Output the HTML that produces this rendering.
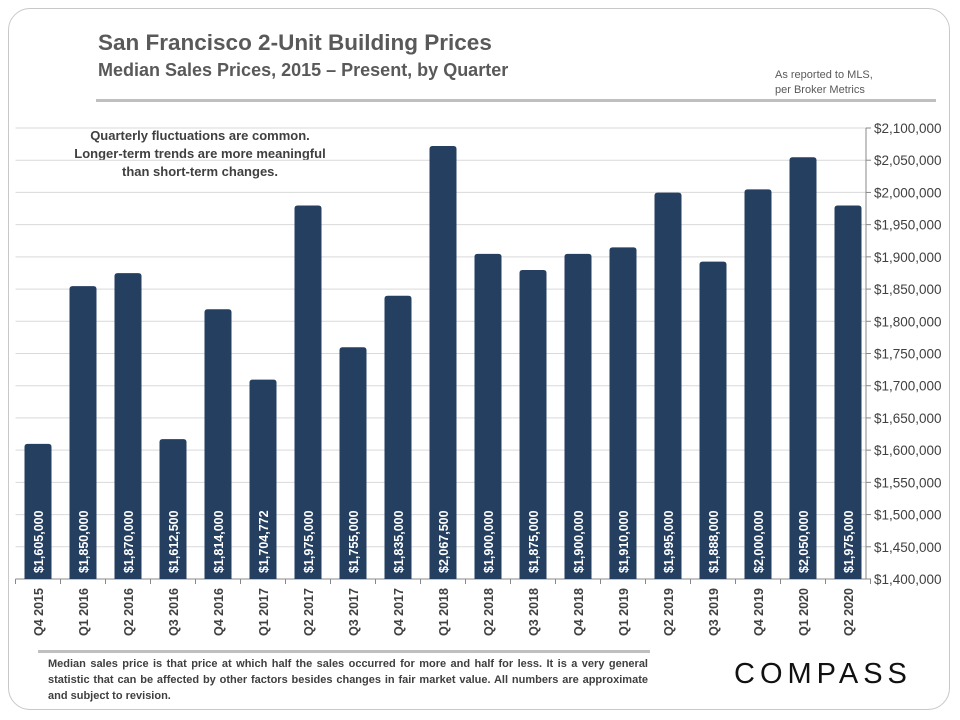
<!DOCTYPE html>
<html><head><meta charset="utf-8"><style>
body{margin:0;background:#fff;font-family:"Liberation Sans",sans-serif;}
#wrap{position:relative;width:960px;height:720px;overflow:hidden;}
.card{position:absolute;left:8px;top:8px;width:940px;height:700px;border:1.5px solid #c8c8c8;border-radius:22px;}
.t{position:absolute;color:#595959;font-weight:bold;}
</style></head><body><div id="wrap">
<div class="card"></div>
<div class="t" style="left:98px;top:30px;font-size:22.5px;">San Francisco 2-Unit Building Prices</div>
<div class="t" style="left:98px;top:60px;font-size:18px;">Median Sales Prices, 2015 – Present, by Quarter</div>
<div class="t" style="left:775px;top:68px;font-size:11px;line-height:15px;font-weight:normal;color:#595959;">As reported to MLS,<br>per Broker Metrics</div>
<div style="position:absolute;left:96px;top:99px;width:840px;height:3px;background:#bfbfbf;"></div>
<div class="t" style="left:55px;top:127px;width:290px;text-align:center;font-size:13px;line-height:18px;color:#404040;">Quarterly fluctuations are common.<br>Longer-term trends are more meaningful<br>than short-term changes.</div>
<svg id="chart" width="960" height="720" style="position:absolute;left:0;top:0"></svg>
<div style="position:absolute;left:38px;top:650px;width:612px;height:3px;background:#bfbfbf;"></div>
<div style="position:absolute;left:48px;top:656px;width:600px;font-size:11px;line-height:16px;color:#404040;font-weight:bold;text-align:justify;">Median sales price is that price at which half the sales occurred for more and half for less. It is a very general statistic that can be affected by other factors besides changes in fair market value. All numbers are approximate and subject to revision.</div>
<div style="position:absolute;left:734px;top:658px;font-size:29px;letter-spacing:5px;color:#111;font-family:'Liberation Sans',sans-serif;">COMPASS</div>
</div>
<script>
const categories=["Q4 2015","Q1 2016","Q2 2016","Q3 2016","Q4 2016","Q1 2017","Q2 2017","Q3 2017","Q4 2017","Q1 2018","Q2 2018","Q3 2018","Q4 2018","Q1 2019","Q2 2019","Q3 2019","Q4 2019","Q1 2020","Q2 2020"];
const values=[1605000,1850000,1870000,1612500,1814000,1704772,1975000,1755000,1835000,2067500,1900000,1875000,1900000,1910000,1995000,1888000,2000000,2050000,1975000];
const labels=["$1,605,000","$1,850,000","$1,870,000","$1,612,500","$1,814,000","$1,704,772","$1,975,000","$1,755,000","$1,835,000","$2,067,500","$1,900,000","$1,875,000","$1,900,000","$1,910,000","$1,995,000","$1,888,000","$2,000,000","$2,050,000","$1,975,000"];
const ticks=[1400000,1450000,1500000,1550000,1600000,1650000,1700000,1750000,1800000,1850000,1900000,1950000,2000000,2050000,2100000];
const NS="http://www.w3.org/2000/svg",svg=document.getElementById('chart');
const yMin=1400000,yMax=2100000,top0=128,base=579,left=15.5,band=45,axisX=866;
const y=v=>base-(v-yMin)/(yMax-yMin)*(base-top0);
const x=i=>left+band*(i+0.5);
function mk(t,a){const e=document.createElementNS(NS,t);for(const k in a)e.setAttribute(k,a[k]);svg.appendChild(e);return e;}
ticks.forEach(t=>{
 const g=mk('line',{x1:left,x2:axisX,y1:y(t),y2:y(t),stroke:'#d9d9d9','stroke-width':1});
 
 
 const tk=mk('line',{x1:axisX,x2:axisX+5,y1:y(t),y2:y(t),stroke:'#888'});
 
 
 const tx=mk('text',{x:axisX+8,y:y(t)+5,'font-size':13.5,fill:'#404040','font-family':'Liberation Sans,sans-serif'});
 tx.textContent='$'+t.toLocaleString('en-US');
 
 
});
const ax=mk('line',{x1:axisX,x2:axisX,y1:top0,y2:base,stroke:'#888'});


const bx=mk('line',{x1:left,x2:axisX,y1:base,y2:base,stroke:'#888'});


for(let i=0;i<=categories.length;i++){
 const t=mk('line',{x1:left+band*i,x2:left+band*i,y1:base,y2:base+5,stroke:'#888'});
 
 
}
categories.forEach((c,i)=>{
 const w=27,top=y(values[i])-3;
 const b=mk('path',{d:`M${x(i)-w/2},${base}V${top+3}q0,-3 3,-3h${w-6}q3,0 3,3V${base}Z`,fill:'#243f60'});
 
 
 const l=mk('text',{x:0,y:0,transform:`translate(${x(i)+5},${base-6}) rotate(-90)`,'font-size':12.5,fill:'#fff','font-weight':'bold','font-family':'Liberation Sans,sans-serif'});
 l.textContent=labels[i];
 
 
 const cl=mk('text',{x:0,y:0,transform:`translate(${x(i)+5},${base+57}) rotate(-90)`,'font-size':12.5,fill:'#404040','font-weight':'bold','font-family':'Liberation Sans,sans-serif'});
 cl.textContent=c;
 
 
});
</script>
</body></html>
